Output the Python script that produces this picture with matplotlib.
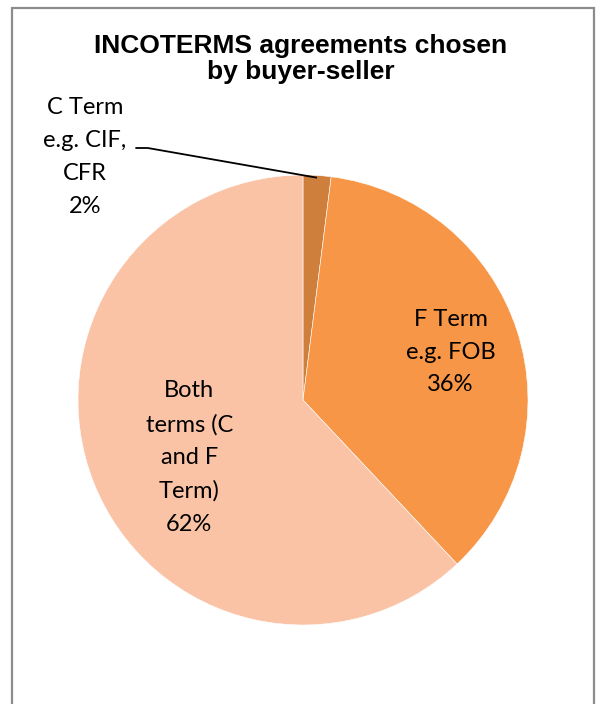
import numpy as np
import matplotlib
matplotlib.use("Agg")
import matplotlib.pyplot as plt
from matplotlib.patches import Rectangle

title = "INCOTERMS agreements chosen\nby buyer-seller"
categories = ["C Term\ne.g. CIF,\nCFR", "F Term\ne.g. FOB", "Both\nterms (C\nand F\nTerm)"]
values = [2, 36, 62]
colors = ["#CF7F3C", "#F79646", "#FAC3A6"]

W, H = 601, 704
fig = plt.figure(figsize=(W / 100, H / 100), dpi=100)

# outer chart border (bottom edge runs off image)
fig.patches.append(Rectangle((12 / W, -0.05), (594 - 12) / W, (H - 8) / H + 0.05,
                             transform=fig.transFigure, fill=False,
                             edgecolor="#8C8C8C", linewidth=1.6))

cx, cy, r = 303, 400, 225
ax = fig.add_axes([(cx - r) / W, (H - cy - r) / H, 2 * r / W, 2 * r / H])

wedges, _ = ax.pie(values, colors=colors, startangle=90, counterclock=False,
                   radius=1, wedgeprops=dict(edgecolor="white", linewidth=0.4))
ax.set_xlim(-1, 1)
ax.set_ylim(-1, 1)
ax.axis("off")

lab_font = dict(family="Lato", fontsize=17, color="black", ha="center", va="center",
                linespacing=1.7)
total = sum(values)
texts = [f"{c}\n{v / total * 100:.0f}%" for c, v in zip(categories, values)]

# F Term and Both labels inside slices
for i, dist, dx, dy in [(1, 0.69, 0.0, 0.0), (2, 0.56, 0.015, -0.05)]:
    w = wedges[i]
    ang = np.deg2rad((w.theta1 + w.theta2) / 2)
    ax.text(dist * np.cos(ang) + dx, dist * np.sin(ang) + dy, texts[i], **lab_font)

# C Term label outside with leader line
w = wedges[0]
ang = np.deg2rad((w.theta1 + w.theta2) / 2)
tx, ty = -0.97, 1.08
ax.text(tx, ty, texts[0], clip_on=False, **lab_font)
ex, ey = 0.99 * np.cos(ang), 0.99 * np.sin(ang)
ax.plot([-0.745, -0.69, ex], [1.12, 1.12, ey], color="black", lw=1.3,
        clip_on=False, solid_capstyle="butt")

fig.text(0.5, 1 - 59 / H, title, ha="center", va="center", family="Liberation Sans",
         fontweight="bold", fontsize=19, linespacing=1.12)

fig.savefig("out.png", dpi=100)
